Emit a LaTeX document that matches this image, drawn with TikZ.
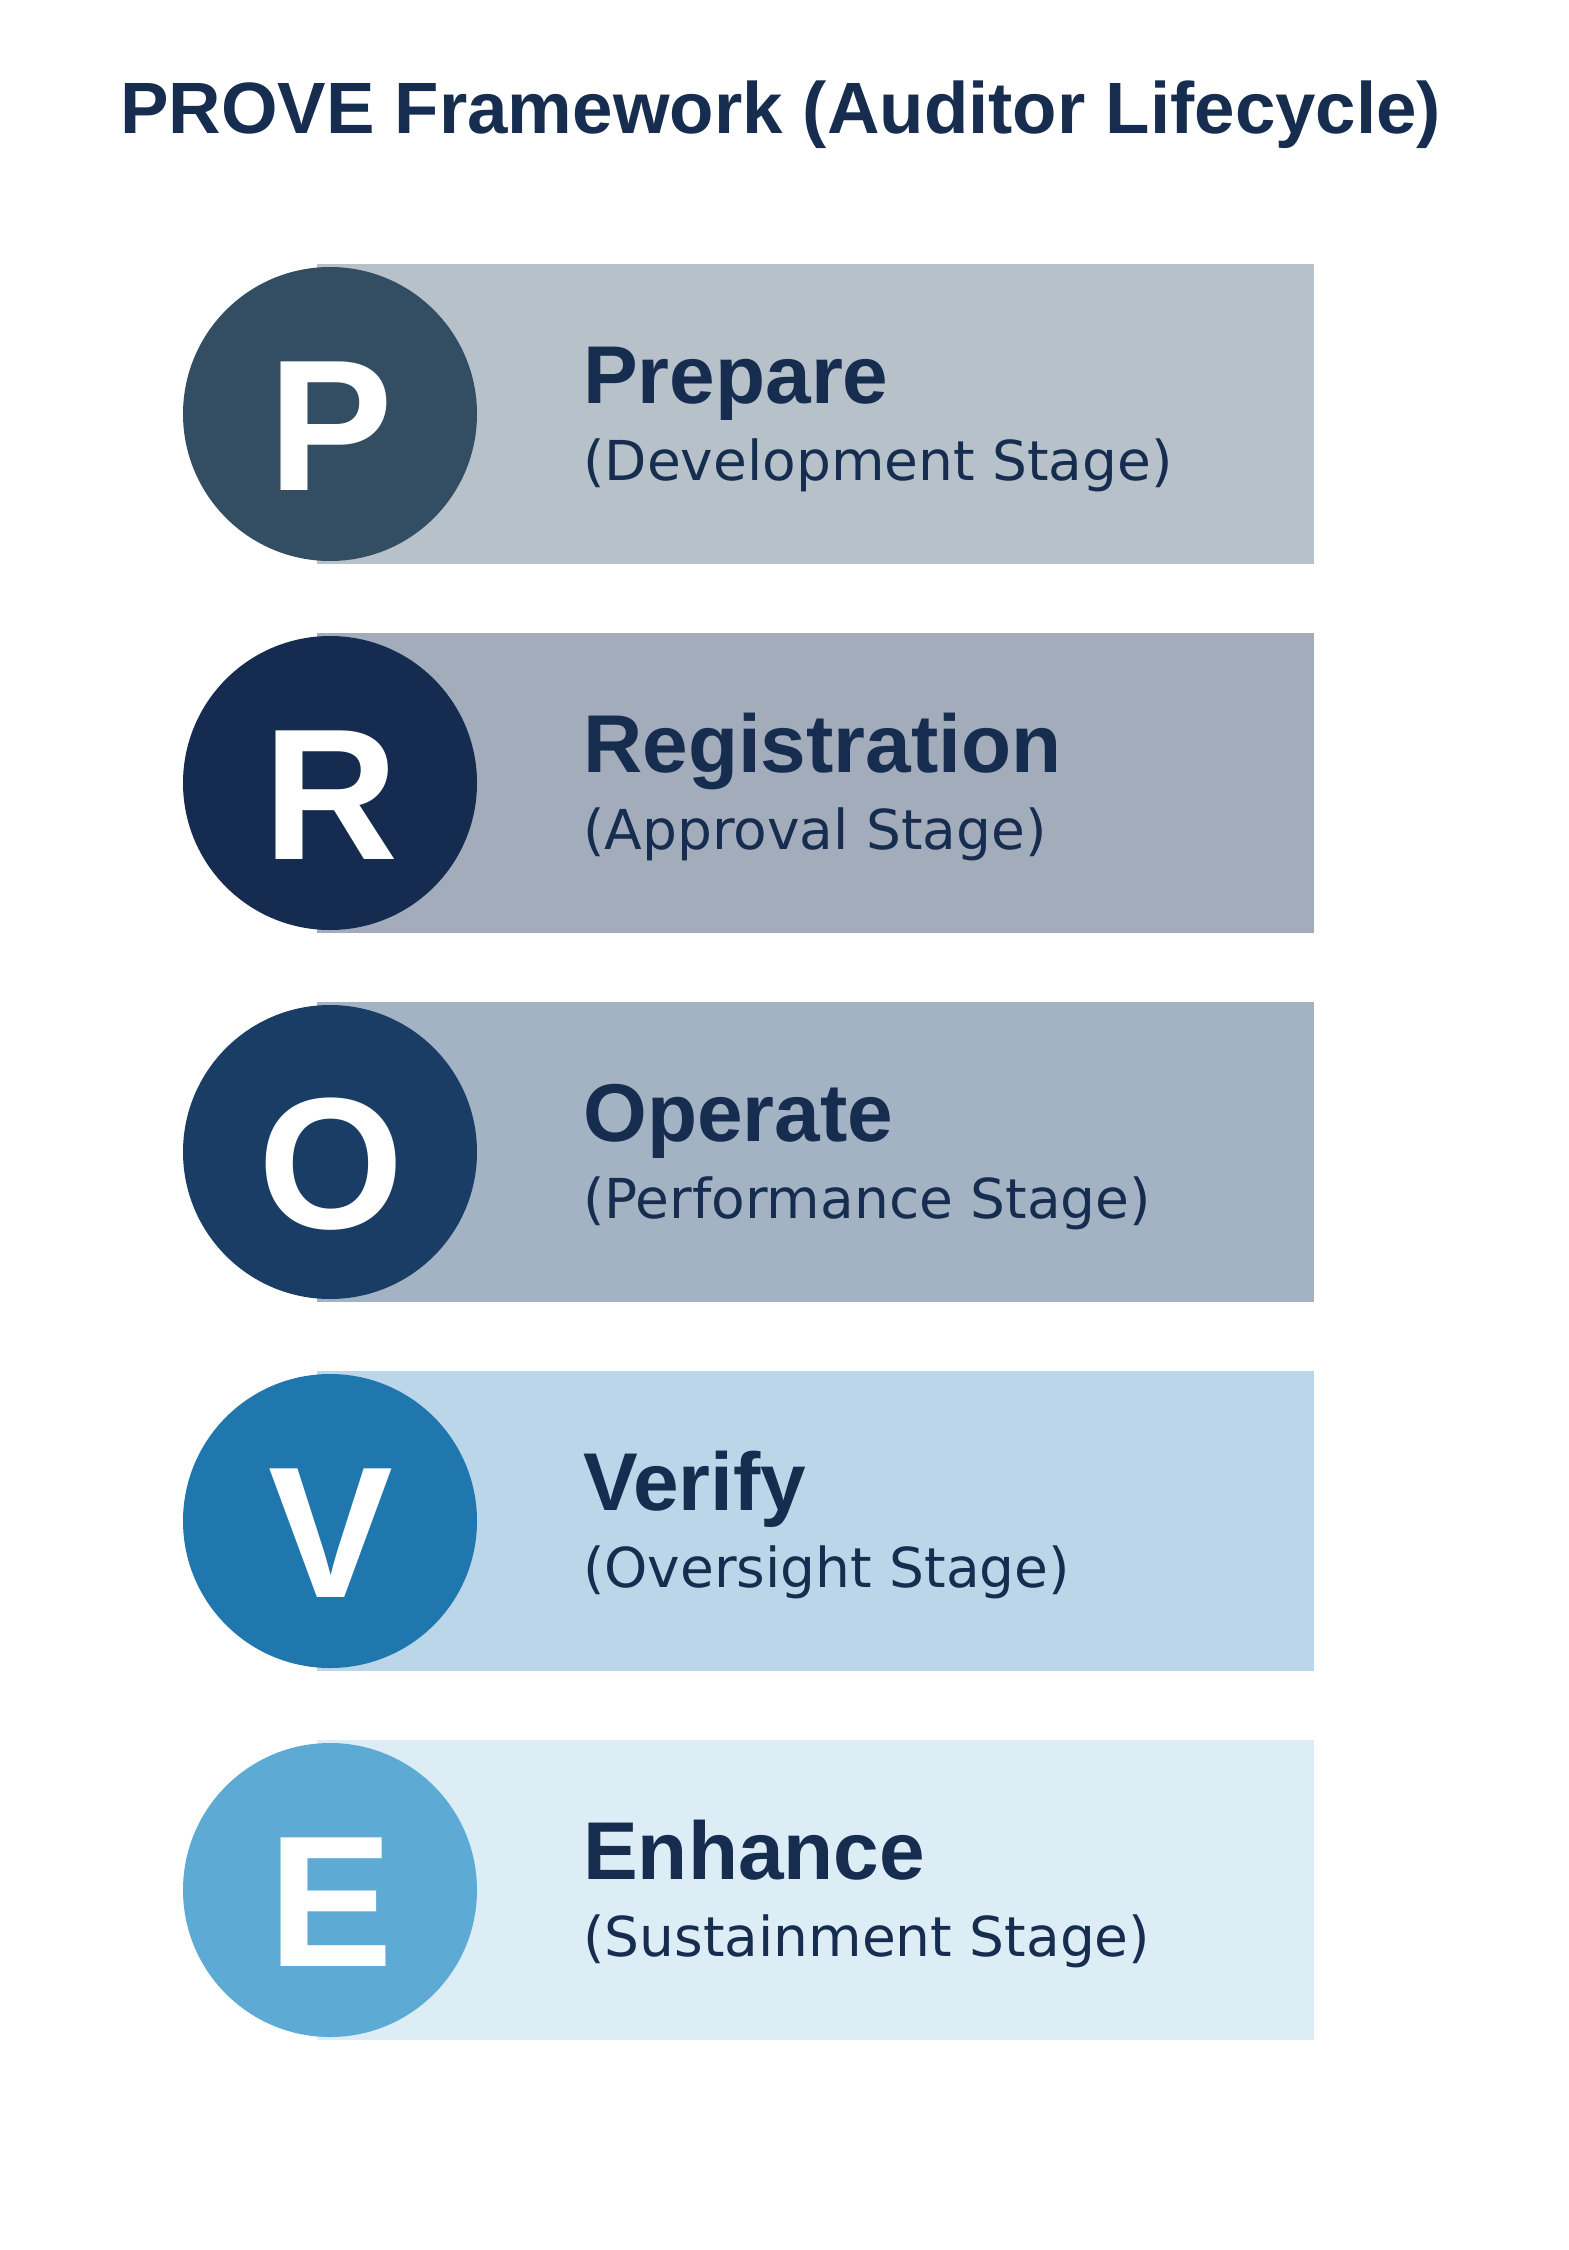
\documentclass[tikz,border=0pt]{standalone}
\usepackage{fontspec}
\setmainfont{Liberation Sans}
\newfontfamily\subfont{DejaVu Sans}
\definecolor{txt}{HTML}{162D50}
\definecolor{cP}{HTML}{334D63}
\definecolor{rP}{HTML}{B7C1CA}
\definecolor{cR}{HTML}{152C50}
\definecolor{rR}{HTML}{A2ACBA}
\definecolor{cO}{HTML}{1A3D66}
\definecolor{rO}{HTML}{A4B3C4}
\definecolor{cV}{HTML}{1F77AE}
\definecolor{rV}{HTML}{BBD6E8}
\definecolor{cE}{HTML}{5DABD4}
\definecolor{rE}{HTML}{DDEDF6}
\begin{document}
\begin{tikzpicture}[x=1pt,y=-1pt,
  band/.style={draw=none,inner sep=0pt,minimum width=997pt,minimum height=300pt,anchor=north west},
  disc/.style={circle,draw=none,inner sep=0pt,minimum size=294pt},
  letter/.style={anchor=base,inner sep=0pt,text=white,font=\fontsize{187}{187}\selectfont\bfseries},
  head/.style={anchor=base west,inner sep=0pt,text=txt,font=\fontsize{82}{82}\selectfont\bfseries},
  sub/.style={anchor=base west,inner sep=0pt,text=txt,font=\subfont\fontsize{55}{55}\selectfont}]
\useasboundingbox (0,0) rectangle (1568,2250);
\fill[white] (0,0) rectangle (1568,2250);
\node[anchor=base west,inner sep=0pt,text=txt,font=\fontsize{72.7}{72.7}\selectfont\bfseries] (title) at (120,134) {PROVE Framework (Auditor Lifecycle)};
% rows
\foreach \k/\L/\H/\S [count=\i from 0] in {P/P/Prepare/(Development Stage),R/R/Registration/(Approval Stage),O/O/Operate/(Performance Stage),V/V/Verify/(Oversight Stage),E/E/Enhance/(Sustainment Stage)}{
  \pgfmathsetmacro{\top}{264+369*\i}
  \node[band,fill=r\k] (band\k) at (317,\top) {};
  \node[disc,fill=c\k] (disc\k) at (330,\top+150) {};
  \node[letter] (let\k) at (331,\top+226) {\L};
  \node[head] (head\k) at (583,\top+139) {\H};
  \node[sub] (sub\k) at (583,\top+216) {\S};
}
\end{tikzpicture}
\end{document}
